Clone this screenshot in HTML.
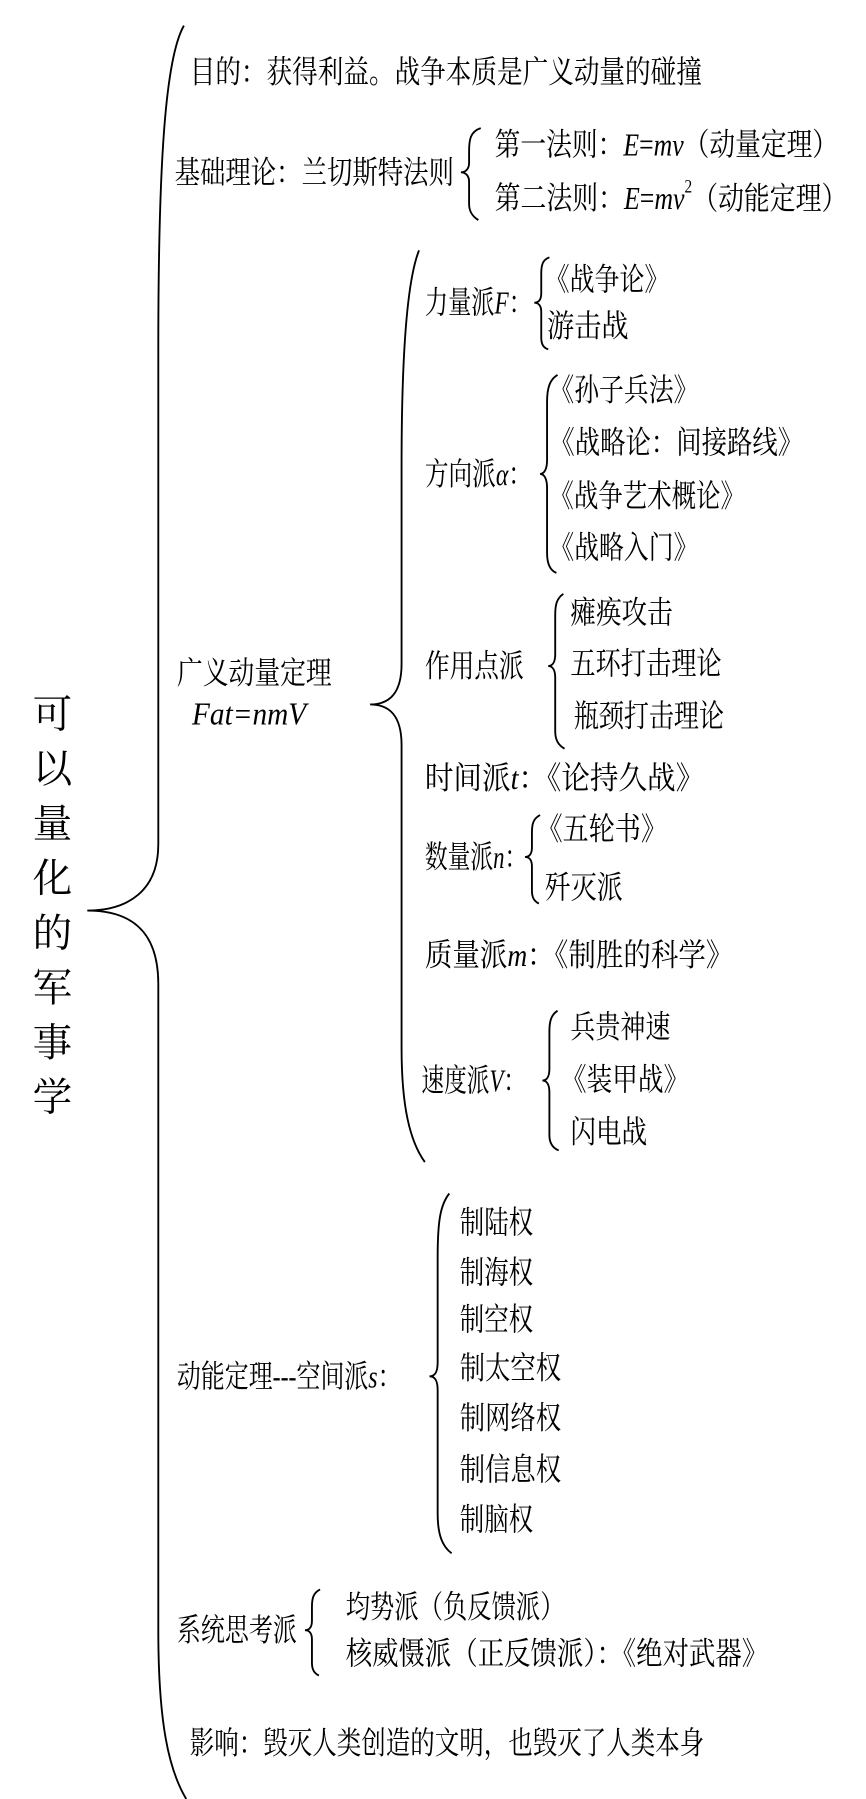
<!DOCTYPE html>
<html><head><meta charset="utf-8"><style>
html,body{margin:0;padding:0;background:#fff;}
svg{display:block;}
text{font-family:"Liberation Serif","Noto Serif CJK SC",serif;fill:#000;dominant-baseline:central;}
.i{font-style:italic;}
</style></head><body>
<svg width="866" height="1799" viewBox="0 0 744 1545" preserveAspectRatio="none" xmlns="http://www.w3.org/2000/svg">
<g fill="none" stroke="#000" stroke-width="1.6">
<path d="M158,22 C142,50 136,140 136,300 L136,725 C136,765 110,782 75,782 C110,782 136,797 136,845 L136,1400 C136,1480 145,1520 160,1545"/>
<path d="M413,110 C404,113 403,120 403,130 L403,140 C403,145 400,148 396,148 C400,148 403,151 403,156 L403,175 C403,182 406,186 411,189"/>
<path d="M360,215 C350,240 345,300 345,400 L345,570 C345,595 335,605 318,605 C335,605 345,615 345,640 L345,900 C345,950 352,980 365,998"/>
<path d="M472,221 C466,223 465,228 465,235 L465,252 C465,257 463,260 459,260 C463,260 465,263 465,268 L465,290 C465,296 467,299 471,300"/>
<path d="M479,322 C472,326 470,334 470,345 L470,395 C470,402 468,407 464,407 C468,407 470,412 470,419 L470,475 C470,485 473,490 478,492"/>
<path d="M484,510 C478,514 477,520 477,528 L477,562 C477,568 475,572 471,572 C475,572 477,576 477,582 L477,628 C477,636 480,640 485,643"/>
<path d="M464,700 C458,703 457,708 457,715 L457,728 C457,733 455,736 451,736 C455,736 457,739 457,744 L457,765 C457,771 459,774 463,776"/>
<path d="M479,868 C473,872 472,878 472,886 L472,918 C472,924 470,928 466,928 C470,928 472,932 472,938 L472,975 C472,982 475,986 480,988"/>
<path d="M386,1025 C378,1035 376,1050 376,1080 L376,1170 C376,1178 374,1182 369,1182 C374,1182 376,1186 376,1194 L376,1300 C376,1318 380,1328 388,1334"/>
<path d="M275,1365 C269,1368 268,1373 268,1380 L268,1392 C268,1397 266,1400 262,1400 C266,1400 268,1403 268,1408 L268,1428 C268,1434 270,1437 274,1439"/>
</g>
<g font-size="27">
<text x="163" y="62" textLength="440" lengthAdjust="spacingAndGlyphs">目的：获得利益。战争本质是广义动量的碰撞</text>
<text x="150" y="148" textLength="240" lengthAdjust="spacingAndGlyphs">基础理论：兰切斯特法则</text>
<text x="425" y="124" textLength="295" lengthAdjust="spacingAndGlyphs">第一法则：<tspan class="i">E</tspan>=<tspan class="i">mv</tspan>（动量定理）</text>
<text x="425" y="170" textLength="303" lengthAdjust="spacingAndGlyphs">第二法则：<tspan class="i">E</tspan>=<tspan class="i">mv</tspan><tspan font-size="16" dy="-10">2</tspan><tspan dy="10">（动能定理）</tspan></text>

<text x="152" y="578" textLength="133" lengthAdjust="spacingAndGlyphs">广义动量定理</text>
<text x="165" y="613" class="i" textLength="98" lengthAdjust="spacingAndGlyphs">Fat=nmV</text>

<text x="365" y="260" textLength="92" lengthAdjust="spacingAndGlyphs">力量派<tspan class="i">F</tspan>：</text>
<text x="468" y="240" textLength="107" lengthAdjust="spacingAndGlyphs">《战争论》</text>
<text x="470" y="280" textLength="70" lengthAdjust="spacingAndGlyphs">游击战</text>

<text x="365" y="407" textLength="92" lengthAdjust="spacingAndGlyphs">方向派<tspan class="i">α</tspan>：</text>
<text x="472" y="335" textLength="128" lengthAdjust="spacingAndGlyphs">《孙子兵法》</text>
<text x="472" y="380" textLength="218" lengthAdjust="spacingAndGlyphs">《战略论：间接路线》</text>
<text x="472" y="426" textLength="168" lengthAdjust="spacingAndGlyphs">《战争艺术概论》</text>
<text x="472" y="470" textLength="128" lengthAdjust="spacingAndGlyphs">《战略入门》</text>

<text x="365" y="572" textLength="85" lengthAdjust="spacingAndGlyphs">作用点派</text>
<text x="490" y="526" textLength="88" lengthAdjust="spacingAndGlyphs">瘫痪攻击</text>
<text x="490" y="570" textLength="130" lengthAdjust="spacingAndGlyphs">五环打击理论</text>
<text x="493" y="615" textLength="129" lengthAdjust="spacingAndGlyphs">瓶颈打击理论</text>

<text x="365" y="668" textLength="240" lengthAdjust="spacingAndGlyphs">时间派<tspan class="i">t</tspan>：《论持久战》</text>

<text x="365" y="736" textLength="88" lengthAdjust="spacingAndGlyphs">数量派<tspan class="i">n</tspan>：</text>
<text x="461" y="712" textLength="112" lengthAdjust="spacingAndGlyphs">《五轮书》</text>
<text x="468" y="762" textLength="67" lengthAdjust="spacingAndGlyphs">歼灭派</text>

<text x="365" y="820" textLength="265" lengthAdjust="spacingAndGlyphs">质量派<tspan class="i">m</tspan>：《制胜的科学》</text>

<text x="362" y="928" textLength="90" lengthAdjust="spacingAndGlyphs">速度派<tspan class="i">V</tspan>：</text>
<text x="490" y="882" textLength="86" lengthAdjust="spacingAndGlyphs">兵贵神速</text>
<text x="482" y="927" textLength="110" lengthAdjust="spacingAndGlyphs">《装甲战》</text>
<text x="490" y="972" textLength="66" lengthAdjust="spacingAndGlyphs">闪电战</text>

<text x="152" y="1182" textLength="193" lengthAdjust="spacingAndGlyphs">动能定理---空间派<tspan class="i">s</tspan>：</text>
<text x="395" y="1050" textLength="63" lengthAdjust="spacingAndGlyphs">制陆权</text>
<text x="395" y="1093" textLength="63" lengthAdjust="spacingAndGlyphs">制海权</text>
<text x="395" y="1133" textLength="63" lengthAdjust="spacingAndGlyphs">制空权</text>
<text x="395" y="1175" textLength="87" lengthAdjust="spacingAndGlyphs">制太空权</text>
<text x="395" y="1218" textLength="87" lengthAdjust="spacingAndGlyphs">制网络权</text>
<text x="395" y="1262" textLength="87" lengthAdjust="spacingAndGlyphs">制信息权</text>
<text x="395" y="1305" textLength="63" lengthAdjust="spacingAndGlyphs">制脑权</text>

<text x="152" y="1400" textLength="103" lengthAdjust="spacingAndGlyphs">系统思考派</text>
<text x="297" y="1380" textLength="188" lengthAdjust="spacingAndGlyphs">均势派（负反馈派）</text>
<text x="297" y="1420" textLength="363" lengthAdjust="spacingAndGlyphs">核威慑派（正反馈派）：《绝对武器》</text>

<text x="163" y="1497" textLength="442" lengthAdjust="spacingAndGlyphs">影响：毁灭人类创造的文明，也毁灭了人类本身</text>
</g>
<g font-size="34" text-anchor="middle">
<text x="45" y="614">可</text>
<text x="45" y="661">以</text>
<text x="45" y="708">量</text>
<text x="45" y="755">化</text>
<text x="45" y="802">的</text>
<text x="45" y="849">军</text>
<text x="45" y="896">事</text>
<text x="45" y="943">学</text>
</g>
</svg>
</body></html>
